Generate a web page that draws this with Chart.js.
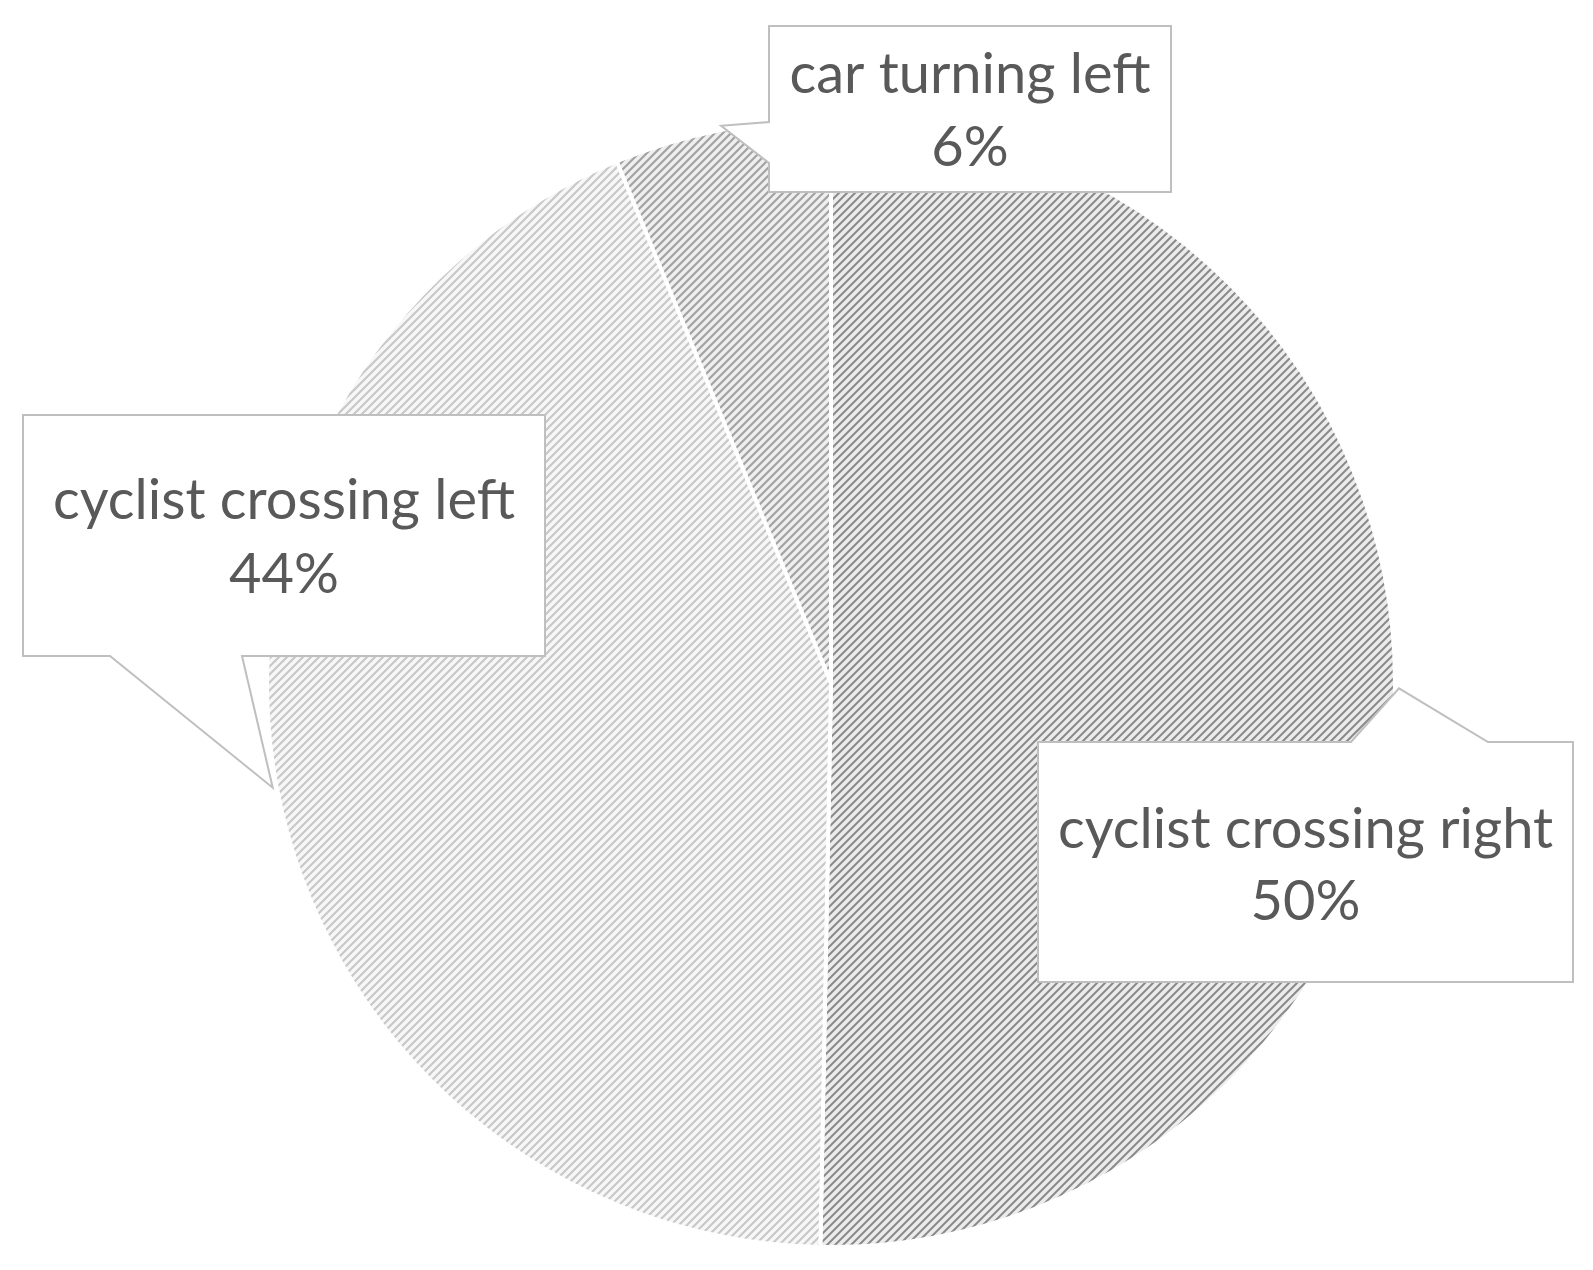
<!DOCTYPE html>
<html>
<head>
<meta charset="utf-8">
<script src="https://cdn.jsdelivr.net/npm/chart.js@4"></script>
<style>
  html, body { margin: 0; padding: 0; background: #fff; }
  canvas { display: block; }
</style>
</head>
<body>
<canvas id="myChart" width="1593" height="1270"></canvas>
<script>
// slices, clockwise from the top
const sliceLabels = ['cyclist crossing right', 'cyclist crossing left', 'car turning left']
const sliceValues = [50.3, 43.5, 6.2]

// callout boxes (box rect + where the wedge leaves the box)
const callouts = [
    { x: 1038, y: 742, w: 535, h: 240, side: 'top', a: 1351, b: 1488, line1: 848, line2: 920 },
    { x: 23, y: 415, w: 522, h: 241, side: 'bottom', a: 110, b: 242, line1: 519, line2: 593 },
    { x: 769, y: 26, w: 402, h: 166, side: 'left', a: 122, b: 163, line1: 93, line2: 166 },
]

const ctx = document.querySelector('#myChart')
const g = ctx.getContext('2d')

const hatch = (bg, fg, lw) => {
    const tile = document.createElement('canvas')
    tile.width = 8
    tile.height = 8
    const t = tile.getContext('2d')
    t.fillStyle = bg
    t.fillRect(0, 0, 8, 8)
    t.strokeStyle = fg
    t.lineWidth = lw
    t.beginPath()
    t.moveTo(-2, 10); t.lineTo(10, -2)
    t.moveTo(-2, 2); t.lineTo(2, -2)
    t.moveTo(6, 10); t.lineTo(10, 6)
    t.stroke()
    return g.createPattern(tile, 'repeat')
}

const fills = [
    hatch('#ececec', '#8a8a8a', 2),
    hatch('#f7f7f7', '#c8c8c8', 2.2),
    hatch('#efefef', '#a2a2a2', 2.2),
]

const calloutPlugin = {
    id: 'callouts',
    afterDatasetsDraw(chart) {
        const c = chart.ctx
        const arcs = chart.getDatasetMeta(0).data
        const total = sliceValues.reduce((s, v) => s + v, 0)
        arcs.forEach((arc, i) => {
            const box = callouts[i]
            const mid = (arc.startAngle + arc.endAngle) / 2
            const r = arc.outerRadius + 4
            const tx = arc.x + Math.cos(mid) * r
            const ty = arc.y + Math.sin(mid) * r
            const x1 = box.x, y1 = box.y, x2 = box.x + box.w, y2 = box.y + box.h

            c.save()
            c.beginPath()
            c.moveTo(x1, y1)
            if (box.side === 'top') {
                c.lineTo(box.a, y1); c.lineTo(tx, ty); c.lineTo(box.b, y1)
            }
            c.lineTo(x2, y1)
            c.lineTo(x2, y2)
            if (box.side === 'bottom') {
                c.lineTo(box.b, y2); c.lineTo(tx, ty); c.lineTo(box.a, y2)
            }
            c.lineTo(x1, y2)
            if (box.side === 'left') {
                c.lineTo(x1, box.b); c.lineTo(tx, ty); c.lineTo(x1, box.a)
            }
            c.closePath()
            c.fillStyle = '#ffffff'
            c.fill()
            c.strokeStyle = '#bfbfbf'
            c.lineWidth = 2
            c.stroke()

            c.fillStyle = '#595959'
            c.font = '56px Lato'
            c.textAlign = 'center'
            c.textBaseline = 'alphabetic'
            const cx = box.x + box.w / 2
            c.fillText(sliceLabels[i], cx, box.line1)
            c.fillText(Math.round(sliceValues[i] / total * 100) + '%', cx, box.line2)
            c.restore()
        })
    }
}

new Chart(ctx, {
    type: 'pie',
    data: {
        labels: sliceLabels,
        datasets: [
            {
                data: sliceValues,
                backgroundColor: fills,
                borderColor: '#ffffff',
                borderWidth: 4,
            },
        ],
    },
    options: {
        responsive: false,
        animation: false,
        layout: {
            padding: { left: 265, right: 196, top: 117, bottom: 21 },
        },
        plugins: {
            legend: { display: false },
            tooltip: { enabled: false },
        },
    },
    plugins: [calloutPlugin],
})
</script>
</body>
</html>
